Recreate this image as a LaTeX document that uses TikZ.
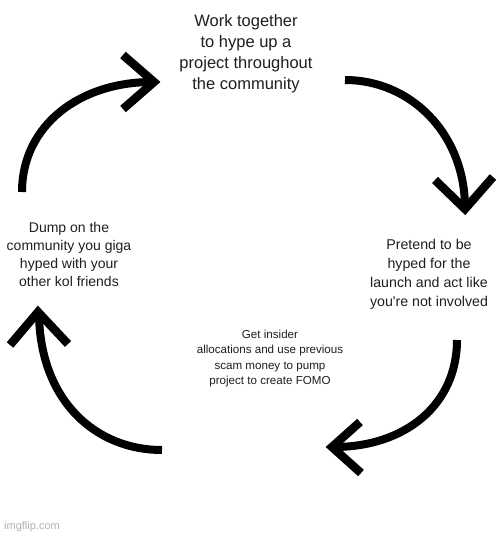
\documentclass[tikz,border=0pt]{standalone}
\usepackage{fontspec}
\setmainfont{Liberation Sans}[Ligatures=TeXOff]
\begin{document}
\begin{tikzpicture}[x=1pt,y=-1pt,
  lbl/.style={align=center,inner sep=0pt,text=black!88},
  shaft/.style={line width=8pt,line cap=butt},
  chev/.style={line width=8.5pt,line join=miter,line cap=butt}]
\useasboundingbox[fill=white] (0,0) rectangle (500,536);
% texts
\node[lbl,font=\fontsize{16.5}{21}\selectfont] (top) at (246,54) {Work together\\to hype up a\\project throughout\\the community};
\node[lbl,font=\fontsize{14}{18}\selectfont] (left) at (69,254) {Dump on the\\community you giga\\hyped with your\\other kol friends};
\node[lbl,font=\fontsize{14.2}{19}\selectfont] (right) at (429,274) {Pretend to be\\hyped for the\\launch and act like\\you're not involved};
\node[lbl,font=\fontsize{11.6}{15.5}\selectfont] (mid) at (270,358.5) {Get insider\\allocations and use previous\\scam money to pump\\project to create FOMO};
\node[anchor=west,inner sep=0pt,text=black!30,font=\fontsize{11}{13}\selectfont] (wm) at (4,527) {imgflip.com};
% arrow 1
\coordinate (a1s) at (22,192);
\coordinate (a1e) at (152,82);
\coordinate (a1t) at (154,82);
\draw[shaft] (a1s) .. controls (22,125) and (80,82) .. (a1e);
\draw[chev] (123,55) -- (a1t) -- (123,109);
% arrow 2
\coordinate (a2s) at (345,80);
\coordinate (a2e) at (465,208);
\coordinate (a2t) at (465,209);
\draw[shaft] (a2s) .. controls (411,80) and (465,134) .. (a2e);
\draw[chev] (435,180) -- (a2t) -- (493,177);
% arrow 3
\coordinate (a3s) at (457,340);
\coordinate (a3e) at (334,447);
\coordinate (a3t) at (332,447);
\draw[shaft] (a3s) .. controls (457,405) and (405,447) .. (a3e);
\draw[chev] (360,422) -- (a3t) -- (361,473);
% arrow 4
\coordinate (a4s) at (162,450);
\coordinate (a4e) at (39,314);
\coordinate (a4t) at (38,312);
\draw[shaft] (a4s) .. controls (95,450) and (40,400) .. (a4e);
\draw[chev] (10,345) -- (a4t) -- (68,344);
\end{tikzpicture}
\end{document}
